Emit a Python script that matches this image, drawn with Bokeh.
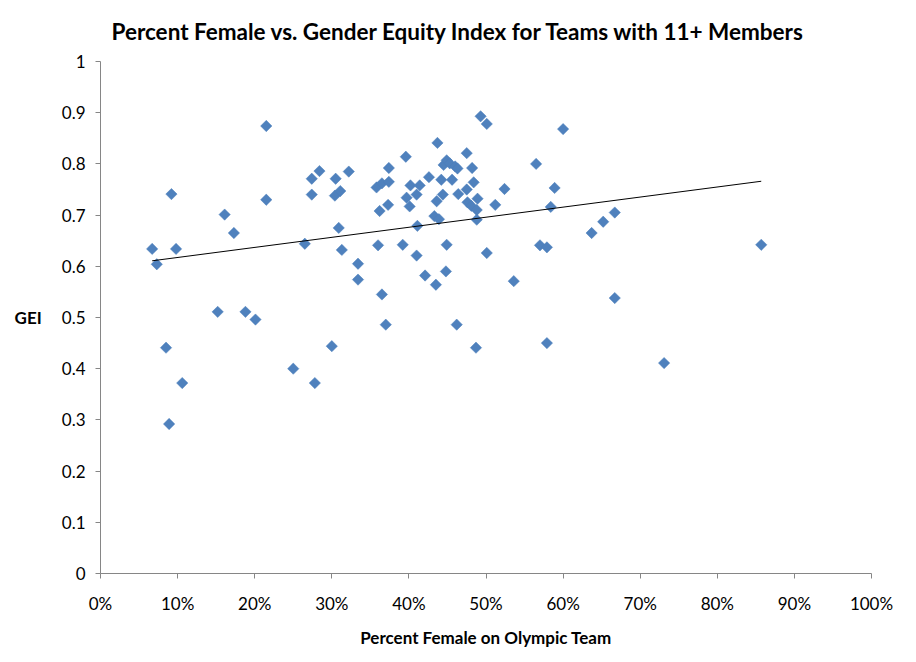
import numpy as np
from bokeh.plotting import figure
from bokeh.models import FixedTicker, NumeralTickFormatter, ColumnDataSource, Range1d
from bokeh.embed import file_html
from bokeh.resources import INLINE

# Percent female on Olympic team (fraction) and GEI
pct_female = [
    0.067, 0.073, 0.092, 0.098, 0.085, 0.089, 0.106, 0.152, 0.161, 0.173,
    0.188, 0.201, 0.215, 0.215, 0.250, 0.265, 0.274, 0.274, 0.284, 0.278,
    0.300, 0.304, 0.305, 0.309, 0.311, 0.313, 0.322, 0.334, 0.334, 0.358,
    0.360, 0.362, 0.365, 0.365, 0.370, 0.373, 0.374, 0.374, 0.392, 0.396,
    0.397, 0.401, 0.402, 0.410, 0.411, 0.410, 0.414, 0.421, 0.426, 0.433,
    0.435, 0.436, 0.437, 0.439, 0.442, 0.444, 0.445, 0.448, 0.449, 0.449,
    0.453, 0.456, 0.460, 0.462, 0.463, 0.464, 0.475, 0.475, 0.476, 0.481,
    0.482, 0.484, 0.487, 0.488, 0.488, 0.489, 0.493, 0.501, 0.501, 0.512,
    0.524, 0.536, 0.565, 0.570, 0.579, 0.579, 0.584, 0.589, 0.600, 0.637,
    0.652, 0.667, 0.667, 0.731, 0.857,
]
gei = [
    0.634, 0.604, 0.741, 0.634, 0.441, 0.292, 0.372, 0.511, 0.701, 0.665,
    0.511, 0.496, 0.874, 0.730, 0.400, 0.644, 0.771, 0.740, 0.786, 0.372,
    0.444, 0.738, 0.771, 0.675, 0.747, 0.632, 0.785, 0.605, 0.574, 0.754,
    0.641, 0.708, 0.545, 0.762, 0.486, 0.720, 0.765, 0.792, 0.642, 0.814,
    0.734, 0.717, 0.758, 0.740, 0.679, 0.621, 0.758, 0.582, 0.774, 0.698,
    0.564, 0.727, 0.841, 0.692, 0.769, 0.740, 0.798, 0.590, 0.642, 0.807,
    0.801, 0.769, 0.795, 0.486, 0.791, 0.741, 0.821, 0.750, 0.725, 0.718,
    0.792, 0.764, 0.441, 0.710, 0.691, 0.732, 0.893, 0.878, 0.626, 0.720,
    0.751, 0.571, 0.800, 0.641, 0.637, 0.450, 0.716, 0.753, 0.868, 0.665,
    0.687, 0.705, 0.538, 0.411, 0.642,
]

x_ticks = [0.0, 0.1, 0.2, 0.3, 0.4, 0.5, 0.6, 0.7, 0.8, 0.9, 1.0]
y_ticks = [0.0, 0.1, 0.2, 0.3, 0.4, 0.5, 0.6, 0.7, 0.8, 0.9, 1.0]
y_tick_labels = ["0", "0.1", "0.2", "0.3", "0.4", "0.5", "0.6", "0.7", "0.8", "0.9", "1"]

title_text = "Percent Female vs. Gender Equity Index for Teams with 11+ Members"
x_label = "Percent Female on Olympic Team"
y_label = "GEI"

FONT = "Lato"
AXIS_GRAY = "#868686"

p = figure(width=908, height=654, output_backend="svg", toolbar_location=None,
           x_range=Range1d(0, 1), y_range=Range1d(0, 1),
           min_border_left=100, min_border_right=37, min_border_top=61, min_border_bottom=81,
           title=title_text)
p.outline_line_color = None
p.xgrid.visible = False
p.ygrid.visible = False
p.background_fill_color = "white"
p.border_fill_color = "white"

p.title.text_font = FONT
p.title.text_font_style = "bold"
p.title.text_font_size = "22.5px"
p.title.text_color = "black"
p.title.align = "left"
p.title.offset = 11
p.title.standoff = 30
p.title.vertical_align = "top"

src = ColumnDataSource(dict(x=pct_female, y=gei))
p.scatter("x", "y", source=src, marker="square", size=8, angle=np.pi / 4,
          fill_color="#4F81BD", line_color="#4A7EBB", line_width=0.5)

# linear trend line
xs = np.array(pct_female)
ys = np.array(gei)
m, b = np.polyfit(xs, ys, 1)
xl = np.array([xs.min(), xs.max()])
p.line(xl, m * xl + b, line_color="black", line_width=1)

for ax in (p.xaxis[0], p.yaxis[0]):
    ax.axis_line_color = AXIS_GRAY
    ax.major_tick_line_color = AXIS_GRAY
    ax.minor_tick_line_color = None
    ax.major_tick_in = 0
    ax.major_tick_out = 5
    ax.major_label_text_font = FONT
    ax.major_label_text_font_size = "17px"
    ax.major_label_text_color = "black"
    ax.axis_label_text_font = FONT
    ax.axis_label_text_font_style = "bold"
    ax.axis_label_text_font_size = "17px"
    ax.axis_label_text_color = "black"

p.xaxis.ticker = FixedTicker(ticks=x_ticks)
p.xaxis.formatter = NumeralTickFormatter(format="0%")
p.xaxis.major_label_standoff = 14
p.xaxis.axis_label = x_label
p.xaxis.axis_label_standoff = 10

p.yaxis.ticker = FixedTicker(ticks=y_ticks)
p.yaxis.major_label_overrides = {t: l for t, l in zip(y_ticks, y_tick_labels)}
p.yaxis.major_label_standoff = 10
p.yaxis.axis_label = y_label
p.yaxis.axis_label_orientation = "horizontal"
p.yaxis.axis_label_standoff = 17

open("out.html", "w").write(file_html(p, INLINE))
